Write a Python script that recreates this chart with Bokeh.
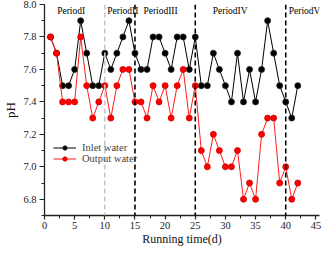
from bokeh.plotting import figure
from bokeh.models import (ColumnDataSource, Span, Label, Legend, LegendItem,
                          SingleIntervalTicker, Range1d, PrintfTickFormatter)
from bokeh.embed import file_html
from bokeh.resources import INLINE

days = list(range(1, 43))
inlet = [7.8, 7.7, 7.5, 7.5, 7.6, 7.9, 7.7, 7.5, 7.5, 7.7,
         7.6, 7.7, 7.8, 7.9, 7.7, 7.6, 7.6, 7.8, 7.8, 7.7,
         7.6, 7.8, 7.8, 7.6, 7.8, 7.5, 7.5, 7.7, 7.6, 7.5,
         7.4, 7.7, 7.4, 7.6, 7.4, 7.6, 7.9, 7.7, 7.5, 7.4,
         7.3, 7.5]
output = [7.8, 7.7, 7.4, 7.4, 7.4, 7.8, 7.5, 7.3, 7.4, 7.5,
          7.3, 7.5, 7.6, 7.6, 7.4, 7.4, 7.3, 7.5, 7.4, 7.5,
          7.3, 7.5, 7.6, 7.3, 7.5, 7.1, 7.0, 7.2, 7.1, 7.0,
          7.0, 7.1, 6.8, 6.9, 6.8, 7.2, 7.3, 7.3, 6.9, 7.0,
          6.8, 6.9]
period_bounds = [10, 15, 25, 40]
period_names = ["PeriodI", "PeriodII", "PeriodIII", "PeriodIV", "PeriodV"]
period_label_x = [2.1, 10.4, 16.4, 27.9, 40.5]
series_names = ["Inlet water", "Output water"]
x_title = "Running time(d)"
y_title = "pH"

FONT = "Liberation Serif"

p = figure(width=322, height=248, output_backend="svg", toolbar_location=None,
           x_range=Range1d(0, 45.6), y_range=Range1d(6.7, 8.0),
           min_border_left=33, min_border_right=3, min_border_top=4,
           min_border_bottom=28)
p.outline_line_color = None
p.xgrid.grid_line_color = None
p.ygrid.grid_line_color = None
p.background_fill_color = "white"
p.border_fill_color = "white"

src = ColumnDataSource(dict(day=days, inlet=inlet, output=output))

l1 = p.line("day", "inlet", source=src, line_color="black", line_width=1)
s1 = p.scatter("day", "inlet", source=src, size=6, fill_color="black",
               line_color="#222222", line_width=0.8)
l2 = p.line("day", "output", source=src, line_color="#ff1a1a", line_width=1)
s2 = p.scatter("day", "output", source=src, size=6, fill_color="#ff0000",
               line_color="#cc0000", line_width=0.8)

for i, b in enumerate(period_bounds):
    col = "#c8c8c8" if i == 0 else "black"
    p.add_layout(Span(location=b, dimension="height", line_color=col,
                      line_width=1.6, line_dash="5 3"))

for name, lx in zip(period_names, period_label_x):
    p.add_layout(Label(x=lx, y=7.962, text=name, text_font=FONT,
                       text_font_size="9.5px", text_baseline="middle",
                       text_align="left", text_color="black"))

# axes
for ax in (p.xaxis[0], p.yaxis[0]):
    ax.axis_line_width = 1.3
    ax.axis_line_color = "#222222"
    ax.major_tick_line_color = "#222222"
    ax.minor_tick_line_color = "#222222"
    ax.major_tick_line_width = 1.2
    ax.minor_tick_line_width = 1.0
    ax.major_tick_in = 0
    ax.minor_tick_in = 0
    ax.major_label_text_font = FONT
    ax.major_label_text_font_size = "10.5px"
    ax.major_label_text_color = "#222222"
    ax.axis_label_text_font = FONT
    ax.axis_label_text_font_style = "normal"
    ax.axis_label_text_color = "#111111"

p.xaxis.ticker = SingleIntervalTicker(interval=5, num_minor_ticks=2)
p.yaxis.ticker = SingleIntervalTicker(interval=0.2, num_minor_ticks=2)
p.yaxis.formatter = PrintfTickFormatter(format="%.1f")
p.xaxis.major_tick_out = 4
p.xaxis.minor_tick_out = 3
p.yaxis.major_tick_out = 5
p.yaxis.minor_tick_out = 3
p.xaxis.major_label_standoff = 2
p.yaxis.major_label_standoff = 3
p.xaxis.axis_label = x_title
p.xaxis.axis_label_text_font_size = "12px"
p.xaxis.axis_label_standoff = 0
p.yaxis.axis_label = y_title
p.yaxis.axis_label_text_font_size = "13px"
p.yaxis.axis_label_standoff = 2

legend = Legend(items=[LegendItem(label=series_names[0], renderers=[l1, s1]),
                       LegendItem(label=series_names[1], renderers=[l2, s2])],
                location=(9, 51), orientation="vertical")
legend.background_fill_alpha = 0
legend.border_line_color = None
legend.padding = 0
legend.margin = 0
legend.spacing = 0
legend.glyph_width = 23
legend.glyph_height = 11
legend.label_height = 11
legend.label_standoff = 6
legend.label_text_font = FONT
legend.label_text_font_size = "10.5px"
legend.label_text_baseline = "middle"
p.add_layout(legend)

open("out.html", "w").write(file_html(p, INLINE))
